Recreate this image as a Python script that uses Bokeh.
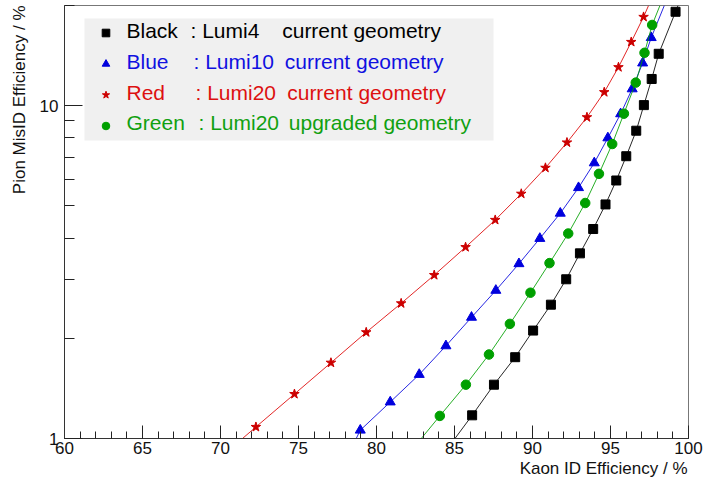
import math
from bokeh.plotting import figure
from bokeh.models import (Range1d, SingleIntervalTicker, FixedTicker, NumeralTickFormatter,
                          Label, BoxAnnotation, Legend, LegendItem, Title)
from bokeh.embed import file_html
from bokeh.resources import INLINE

# ---- data ----
kaon_black = [86.13, 87.53, 88.89, 90.04, 91.18, 92.16, 93.04, 93.89, 94.68, 95.37, 96.01, 96.65, 97.14, 97.64, 98.09, 99.17]
pion_black = [1.174, 1.451, 1.755, 2.110, 2.524, 3.009, 3.60, 4.26, 5.05, 5.96, 7.05, 8.41, 10.04, 12.03, 14.32, 19.15]

kaon_blue = [78.96, 80.88, 82.74, 84.45, 86.09, 87.65, 89.13, 90.47, 91.78, 92.95, 93.96, 94.83, 95.65, 96.39, 97.06, 97.61]
pion_blue = [1.059, 1.287, 1.557, 1.898, 2.312, 2.786, 3.35, 3.99, 4.75, 5.67, 6.73, 8.00, 9.45, 11.23, 13.43, 16.01]

kaon_red = [72.27, 74.74, 77.08, 79.34, 81.58, 83.70, 85.71, 87.61, 89.28, 90.83, 92.21, 93.49, 94.60, 95.51, 96.33, 97.12]
pion_red = [1.083, 1.36, 1.689, 2.085, 2.547, 3.097, 3.758, 4.536, 5.437, 6.506, 7.75, 9.23, 10.98, 13.05, 15.54, 18.48]

kaon_green = [84.06, 85.73, 87.21, 88.55, 89.87, 91.09, 92.29, 93.38, 94.26, 95.11, 95.86, 96.62, 97.18, 97.67]
pion_green = [1.169, 1.451, 1.788, 2.21, 2.742, 3.365, 4.13, 5.10, 6.24, 7.67, 9.46, 11.73, 14.42, 17.48]

# where each curve leaves the frame (bottom at 1 %, top at 20 %)
edge_pion = [1.0, 20.0]
edge_kaon_black = [85.03, 99.33]
edge_kaon_blue = [78.70, 98.45]
edge_kaon_red = [71.41, 97.44]
edge_kaon_green = [82.87, 98.17]

y_ticks = [1, 10]
y_minor = [2, 3, 4, 5, 6, 7, 8, 9, 20]

legend_names = ["Black", "Blue", "Red", "Green"]
legend_lumi = [": Lumi4", ": Lumi10", ": Lumi20", ": Lumi20"]
legend_desc = ["current geometry", "current geometry", "current geometry", "upgraded geometry"]

x_title = "Kaon ID Efficiency / %"
y_title = "Pion MisID Efficiency / %"

FONT = "Liberation Sans"

p = figure(width=703, height=480, x_range=Range1d(60, 100), y_range=Range1d(1, 20),
           y_axis_type="log", output_backend="svg", toolbar_location=None,
           min_border_left=64, min_border_right=15, min_border_top=5, min_border_bottom=42,
           background_fill_color="white", border_fill_color="white")
p.xgrid.visible = False
p.ygrid.visible = False
p.outline_line_color = "#777777"
p.outline_line_width = 1

# legend background box
p.add_layout(BoxAnnotation(left=20, right=429, top=420, bottom=298,
                           left_units="screen", right_units="screen",
                           top_units="screen", bottom_units="screen",
                           fill_color="#f0f0f0", fill_alpha=1.0, line_alpha=0,
                           level="underlay"))

series = [
    ("black", "#000000", "#000000", kaon_black, pion_black, edge_kaon_black, "square", 9),
    ("blue", "#0000dd", "#0000dd", kaon_blue, pion_blue, edge_kaon_blue, "triangle", 10),
    ("red", "#dd0000", "#cc0000", kaon_red, pion_red, edge_kaon_red, "star", 10),
    ("green", "#00a000", "#00a000", kaon_green, pion_green, edge_kaon_green, "circle", 9.5),
]

marker_renderers = []
for name, lc, mc, kx, py, ek, marker, size in series:
    lx = [ek[0]] + list(kx) + [ek[1]]
    ly = [edge_pion[0]] + list(py) + [edge_pion[1]]
    p.line(lx, ly, line_color=lc, line_width=1, line_alpha=0.85)
    r = p.scatter(kx, py, marker=marker, size=size, fill_color=mc, line_color=mc)
    marker_renderers.append(r)

legend = Legend(items=[LegendItem(label=" ", renderers=[r]) for r in marker_renderers],
                location=(31.5, 303), orientation="vertical",
                glyph_width=19, glyph_height=19, label_width=0, label_height=19,
                label_standoff=0, spacing=12, padding=0, margin=0,
                label_text_font_size="1px",
                background_fill_alpha=0, border_line_alpha=0)
p.add_layout(legend, "center")

text_colors = ["#000000", "#1010e0", "#dd1010", "#10a010"]
row_base = [408.2, 377.2, 346.5, 315.8]
lumi_x = [126, 129, 131, 134]
desc_x = [217.7, 220.3, 222.7, 224.3]
for i in range(4):
    for txt, xx in ((legend_names[i], 62), (legend_lumi[i], lumi_x[i]), (legend_desc[i], desc_x[i])):
        p.add_layout(Label(x=xx, y=row_base[i], x_units="screen", y_units="screen", text=txt,
                           text_font=FONT, text_font_size="21px", text_color=text_colors[i],
                           text_align="left", text_baseline="alphabetic"))

# axes
xa = p.xaxis[0]
xa.ticker = SingleIntervalTicker(interval=5, num_minor_ticks=5)
xa.major_tick_in = 13
xa.major_tick_out = 0
xa.minor_tick_in = 7
xa.minor_tick_out = 0
xa.major_tick_line_color = "#222222"
xa.minor_tick_line_color = "#222222"
xa.axis_line_color = "#333333"
xa.major_label_text_font = FONT
xa.major_label_text_font_size = "17px"
xa.major_label_text_color = "#111111"
xa.major_label_standoff = 3

ya = p.yaxis[0]
ya.ticker = FixedTicker(ticks=y_ticks, minor_ticks=y_minor)
ya.formatter = NumeralTickFormatter(format="0")
ya.major_tick_in = 18
ya.major_tick_out = 0
ya.minor_tick_in = 10
ya.minor_tick_out = 0
ya.major_tick_line_color = "#222222"
ya.minor_tick_line_color = "#222222"
ya.axis_line_color = "#333333"
ya.major_label_text_font = FONT
ya.major_label_text_font_size = "17px"
ya.major_label_text_color = "#111111"
ya.major_label_standoff = 6
# blank spacer label: widens the axis panel so the title sits further left
ya.axis_label = " "
ya.axis_label_text_font_size = "1px"
ya.axis_label_standoff = 4

# axis titles (right-aligned as in the reference)
p.add_layout(Title(text=x_title, align="right", text_font=FONT, text_font_size="17px",
                   text_font_style="normal", text_color="#111111", standoff=0, offset=1), "below")
p.add_layout(Title(text=y_title, align="right", text_font=FONT, text_font_size="17px",
                   text_font_style="normal", text_color="#111111", standoff=0, offset=0), "left")

open("out.html", "w").write(file_html(p, INLINE))
